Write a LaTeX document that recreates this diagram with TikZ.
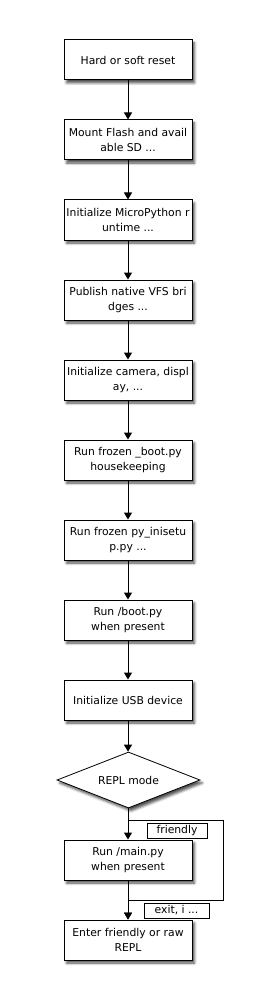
\documentclass[tikz,border=0pt]{standalone}
\usepackage{fontspec}
\setmainfont{DejaVu Sans}
\usetikzlibrary{shapes.geometric,shadows,shadows.blur,arrows.meta}
\begin{document}
\begin{tikzpicture}[x=1pt,y=-1pt,
  txt/.style={font=\fontsize{10.8}{15}\selectfont},
  shad/.style={blur shadow={shadow xshift=2.5pt, shadow yshift=-3pt, shadow blur radius=2.5pt, shadow opacity=70}},
  proc/.style={txt, draw, line width=1pt, fill=white, minimum width=128pt, minimum height=40pt, inner sep=0pt, align=center, shad},
  dec/.style={txt, diamond, aspect=2.55, draw, line width=0.8pt, fill=white, minimum width=143pt, minimum height=56pt, inner sep=0pt, shad},
  lab/.style={txt, draw, line width=0.8pt, fill=white, minimum height=15pt, inner sep=0pt},
  arr/.style={line width=1pt, -{Triangle[width=8pt,length=7pt]}},
  ln/.style={line width=1pt}
]
\useasboundingbox (0,0) rectangle (256,1000);
\node[proc] (b1) at (128,60) {Hard or soft reset};
\node[proc] (b2) at (128,140) {Mount Flash and avail\\able SD ...};
\node[proc] (b3) at (128,220) {Initialize MicroPython r\\untime ...};
\node[proc] (b4) at (128,300) {Publish native VFS bri\\dges ...};
\node[proc] (b5) at (128,380) {Initialize camera, displ\\ay, ...};
\node[proc] (b6) at (128,460) {Run frozen \_boot.py\\housekeeping};
\node[proc] (b7) at (128,540) {Run frozen py\_inisetu\\p.py ...};
\node[proc] (b8) at (128,620) {Run /boot.py\\when present};
\node[proc] (b9) at (128,700) {Initialize USB device};
\node[dec] (d) at (128.5,780) {REPL mode};
\node[proc] (b10) at (128,860) {Run /main.py\\when present};
\node[proc] (b11) at (128,940) {Enter friendly or raw\\REPL};
\draw[arr] (b1) -- (b2);
\draw[arr] (b2) -- (b3);
\draw[arr] (b3) -- (b4);
\draw[arr] (b4) -- (b5);
\draw[arr] (b5) -- (b6);
\draw[arr] (b6) -- (b7);
\draw[arr] (b7) -- (b8);
\draw[arr] (b8) -- (b9);
\draw[arr] (b9) -- (b10.north |- d.north);
\draw[arr] (b10.north |- d.south) -- (b10);
\draw[arr] (b10) -- (b11);
\coordinate (l1) at (223,820);
\coordinate (l2) at (223,900);
\draw[arr] (b10.north |- d.south) |- (l1) -- (l2) -| (b11.north);
\node[lab, minimum width=60pt] (f) at (177,830.5) {friendly};
\node[lab, minimum width=65pt] (e) at (176.5,910.5) {exit, i ...};
\end{tikzpicture}
\end{document}
